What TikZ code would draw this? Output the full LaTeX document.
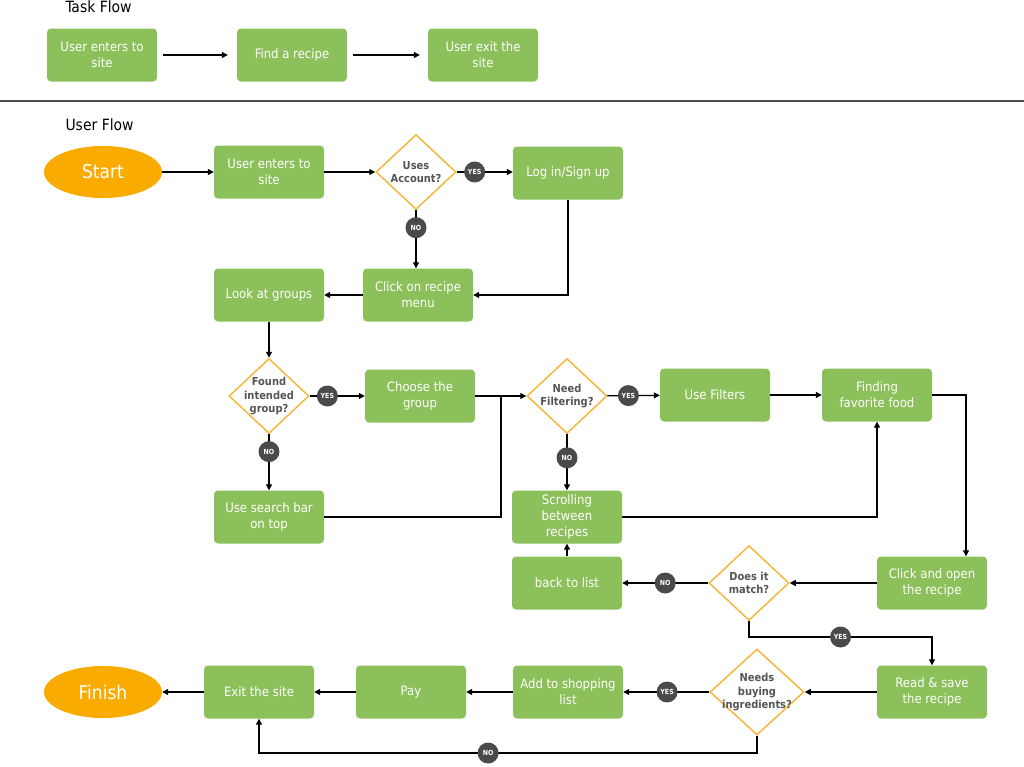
\documentclass[tikz,border=0pt]{standalone}
\usepackage{fontspec}
\setmainfont{DejaVu Sans Condensed}
\usetikzlibrary{shapes.geometric,arrows.meta,positioning}

\definecolor{boxgreen}{HTML}{8CC05A}
\definecolor{startorange}{HTML}{F9AB00}
\definecolor{diaorange}{HTML}{F6B73C}
\definecolor{badgegray}{HTML}{4A4A4A}
\definecolor{dtextgray}{HTML}{555555}

\tikzset{
  box/.style={fill=boxgreen, rounded corners=4pt, minimum width=110pt, minimum height=53pt,
    text=white, font=\fontsize{13}{16}\selectfont, align=center, inner sep=2pt},
  terminal/.style={ellipse, fill=startorange, minimum width=118pt, minimum height=52pt,
    text=white, font=\fontsize{19}{22}\selectfont},
  decision/.style={diamond, draw=diaorange, line width=1.5pt, fill=white,
    minimum width=80pt, minimum height=75pt, inner sep=0pt},
  dtext/.style={text=dtextgray, font=\bfseries\fontsize{11}{13.5}\selectfont, align=center},
  badge/.style={circle, fill=badgegray, text=white, font=\bfseries\fontsize{7}{8}\selectfont,
    inner sep=0pt, minimum size=21pt},
  flow/.style={-{Triangle[length=6pt,width=6pt]}, line width=1.2pt},
  heading/.style={font=\fontsize{15.5}{18}\selectfont, anchor=west}
}

\begin{document}
\begin{tikzpicture}[x=1pt, y=-1pt]

    \useasboundingbox (0,0) rectangle (1024,766);

    % --- Task flow ---
    \node[heading] (tasktitle) at (62,7) {Task Flow};
    \node[box] (t1) at (102,55) {User enters to\\site};
    \node[box] (t2) at (292,55) {Find a recipe};
    \node[box] (t3) at (483,55) {User exit the\\site};

    \draw[flow, shorten <=6pt, shorten >=9pt] (t1) -- (t2);
    \draw[flow, shorten <=6pt, shorten >=8pt] (t2) -- (t3);

    % separator
    \draw[line width=1.5pt, black!70] (0,101) -- (1024,101);

    % --- User flow: nodes ---
    \node[heading] (usertitle) at (62,125) {User Flow};

    \node[terminal] (start) at (103,172) {Start};
    \node[box] (enter) at (269,172) {User enters to\\site};
    \node[decision, label={[dtext]center:Uses\\Account?}] (account) at (416,172) {};
    \node[box] (login) at (568,173) {Log in/Sign up};
    \node[box] (menu) at (418,295) {Click on recipe\\menu};
    \node[box] (groups) at (269,295) {Look at groups};

    \node[decision, label={[dtext]center:Found\\intended\\group?}] (found) at (269,396) {};
    \node[box] (choose) at (420,396) {Choose the\\group};
    \node[box] (search) at (269,517) {Use search bar\\on top};
    \node[decision, label={[dtext]center:Need\\Filtering?}] (filter) at (567,396) {};
    \node[box] (filters) at (715,395) {Use Filters};
    \node[box] (favorite) at (877,395) {Finding\\favorite food};
    \node[box] (scroll) at (567,517) {Scrolling\\between\\recipes};

    \node[box] (open) at (932,583) {Click and open\\the recipe};
    \node[decision, label={[dtext]center:Does it\\match?}] (match) at (749,583) {};
    \node[box] (back) at (567,583) {back to list};

    \node[box] (save) at (932,692) {Read \& save\\the recipe};
    \node[decision, minimum width=94pt, minimum height=86pt,
      label={[dtext]center:Needs\\buying\\ingredients?}] (buying) at (757,692) {};
    \node[box] (shop) at (568,692) {Add to shopping\\list};
    \node[box] (pay) at (411,692) {Pay};
    \node[box] (exit) at (259,692) {Exit the site};
    \node[terminal] (finish) at (103,692) {Finish};

    % --- User flow: connectors ---
    \draw[flow] (start) -- (enter);
    \draw[flow] (enter) -- (account);
    \draw[flow] (account) -- node[badge, pos=0.32] {YES} (account -| login.west);
    \draw[flow] (account) -- node[badge, pos=0.3] {NO} (menu.north -| account.south);
    \draw[flow] (login.south) |- (menu.east);
    \draw[flow] (menu) -- (groups);
    \draw[flow] (groups) -- (found);

    \draw[flow] (found) -- node[badge, pos=0.32] {YES} (choose);
    \draw[flow] (found) -- node[badge, pos=0.31] {NO} (search);
    \coordinate (merge) at (501,396);
    \draw[line width=1.2pt] (search.east) -| (merge);
    \draw[flow] (choose) -- (filter);

    \draw[flow] (filter) -- node[badge, pos=0.4] {YES} (filters);
    \draw[flow] (filter) -- node[badge, pos=0.42] {NO} (scroll);
    \draw[flow] (filters) -- (favorite);
    \draw[flow] (scroll.east) -| (favorite.south);

    \coordinate (bendopen) at (966,395);
    \draw[flow] (favorite.east) -- (bendopen) -- (bendopen |- open.north);
    \draw[flow] (open) -- (match);
    \draw[flow] (match) -- node[badge] {NO} (back);
    \draw[flow] (back) -- (scroll);

    \coordinate (bendyes) at (749,637);
    \draw[flow] (match.south) -- (bendyes) -- node[badge] {YES} (bendyes -| save.north) -- (save.north);
    \draw[flow] (save) -- (buying);
    \draw[flow] (buying) -- node[badge, pos=0.49] {YES} (shop);
    \draw[flow] (shop) -- (pay);
    \draw[flow] (pay) -- (exit);
    \draw[flow] (exit) -- (finish);

    \coordinate (bendno) at (757,753);
    \draw[flow] (buying.south) -- (bendno) -- node[badge, pos=0.54] {NO} (bendno -| exit.south) -- (exit.south);

\end{tikzpicture}
\end{document}
